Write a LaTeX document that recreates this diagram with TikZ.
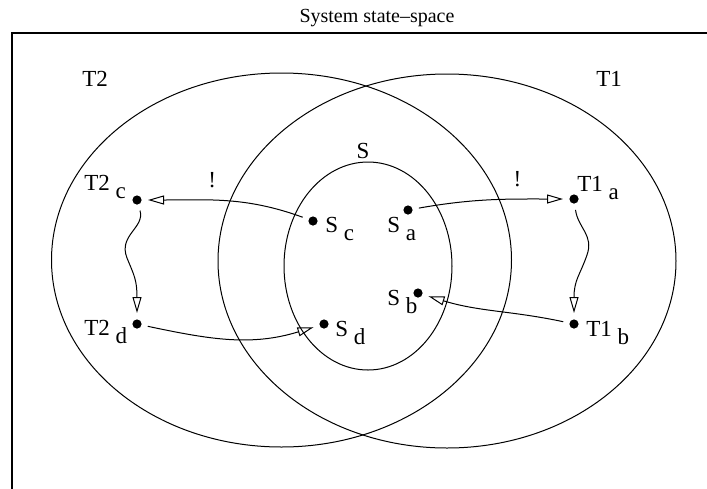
\documentclass[tikz,border=0pt]{standalone}
\usepackage{fontspec}
\setmainfont{Liberation Serif}
\usetikzlibrary{arrows.meta}

\newcommand{\sublbl}[2]{#1 \raisebox{-4pt}{#2}}

\begin{document}
\begin{tikzpicture}[x=0.5pt,y=-0.5pt,
  every node/.style={font=\fontsize{11.5}{13}\selectfont,inner sep=0pt},
  dot/.style={circle,fill,minimum size=4.6pt,outer sep=3.2pt},
  arr/.style={line width=.5pt,-{Triangle[open,length=8pt,width=4.5pt]}}]
\useasboundingbox (0,0) rectangle (707,488);
\node[anchor=base,font=\fontsize{10}{12}\selectfont] (title) at (377,22) {System state--space};
\draw[line width=.7pt] (12,33) rectangle (730,520);
% the three regions
\draw[line width=.5pt] (281.5,260) ellipse [x radius=115pt,y radius=93.5pt];
\draw[line width=.5pt] (447,261) ellipse [x radius=114.5pt,y radius=93.5pt];
\draw[line width=.5pt] (368,266) ellipse [x radius=42pt,y radius=52pt];
\node[anchor=base west] (t2lbl) at (82,86) {T2};
\node[anchor=base west] (t1lbl) at (596,86) {T1};
\node[anchor=base] (slbl) at (363,158) {S};
% states
\node[dot] (t2c) at (137,200) {};
\node[dot] (t2d) at (137,324) {};
\node[dot] (sc) at (313,221) {};
\node[dot] (sa) at (408,210) {};
\node[dot] (sb) at (418,293) {};
\node[dot] (sd) at (324,324) {};
\node[dot] (t1a) at (574,199) {};
\node[dot] (t1b) at (574,324) {};
\node[anchor=base west] (t2clbl) at (84,190) {\sublbl{T2}{c}};
\node[anchor=base west] (t2dlbl) at (84,335) {\sublbl{T2}{d}};
\node[anchor=base west] (sclbl) at (325,232) {\sublbl{S}{c}};
\node[anchor=base west] (salbl) at (387,232) {\sublbl{S}{a}};
\node[anchor=base west] (sblbl) at (387,305) {\sublbl{S}{b}};
\node[anchor=base west] (sdlbl) at (335,336) {\sublbl{S}{d}};
\node[anchor=base west] (t1albl) at (577,191) {\sublbl{T1}{a}};
\node[anchor=base west] (t1blbl) at (586,336) {\sublbl{T1}{b}};
% transitions
\draw[arr] (sc) to[out=160,in=0] node[pos=.6,above=6pt] (exl) {!} (t2c);
\draw[arr] (sa) to[out=10,in=180] node[pos=.7,above=6pt] (exr) {!} (t1a);
\draw[arr] (t2d) to[out=-12,in=197] (sd);
\draw[arr] (t1b) to[out=168,in=-17] (sb);
\draw[arr] (t2c) .. controls (145,228) and (118,235) .. (127,258)
  .. controls (134,275) and (137,280) .. (t2d);
\draw[arr] (t1a) .. controls (578,228) and (594,235) .. (587,255)
  .. controls (580,275) and (574,280) .. (t1b);
\end{tikzpicture}
\end{document}
